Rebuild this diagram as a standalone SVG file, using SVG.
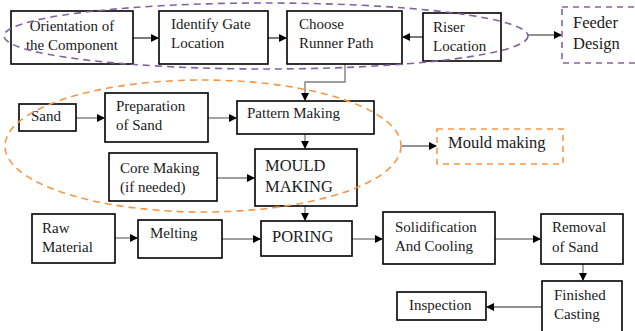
<svg xmlns="http://www.w3.org/2000/svg" width="635" height="331" viewBox="0 0 635 331">
<defs>
<marker id="ah" markerWidth="8" markerHeight="8" refX="7" refY="4" orient="auto" markerUnits="userSpaceOnUse"><path d="M0,0 L8,4 L0,8 Z" fill="#000"/></marker>
<style>
.box{fill:#fff;stroke:#000;stroke-width:1.6}
.t{font-family:"Liberation Serif","Times New Roman",serif;font-size:15px;fill:#1a1a1a}
.big{font-size:16.5px}
.c{fill:none;stroke:#7f7f7f;stroke-width:1.4;marker-end:url(#ah)}
.cd{fill:none;stroke:#222;stroke-width:1.2;marker-end:url(#ah)}
.pd{fill:none;stroke:#8064a2;stroke-width:1.6;stroke-dasharray:7,5}
.od{fill:none;stroke:#f79646;stroke-width:1.6;stroke-dasharray:7,5}
</style>
</defs>
<rect width="635" height="331" fill="#fff"/>
<g id="connectors">
<path class="cd" d="M133,38 H158"/>
<path class="cd" d="M268,38 H286"/>
<path class="cd" d="M423,37 H403"/>
<path class="cd" d="M528,35 H561"/>
<path class="c" d="M345,64 V82 H305 V100"/>
<path class="c" d="M76,118 H104"/>
<path class="c" d="M208,118 H236"/>
<path class="c" d="M305,134 V148"/>
<path class="c" d="M217,178 H254"/>
<path class="cd" d="M402,146 H436"/>
<path class="c" d="M305,206 V220"/>
<path class="c" d="M115,238 H137"/>
<path class="c" d="M222,239 H260"/>
<path class="c" d="M352,239 H382"/>
<path class="c" d="M495,239 H540"/>
<path class="c" d="M583,264 V280"/>
<path class="cd" d="M542,307 H487"/>
</g>
<g id="orientation"><rect class="box" x="11" y="11" width="122" height="53"/><text class="t" x="72" y="31" text-anchor="middle">Orientation of</text><text class="t" x="72" y="50" text-anchor="middle">the Component</text></g>
<g id="gate"><rect class="box" x="159" y="11" width="109" height="53"/><text class="t" x="171" y="29">Identify Gate</text><text class="t" x="171" y="48">Location</text></g>
<g id="runner"><rect class="box" x="287" y="11" width="115" height="53"/><text class="t" x="299" y="29">Choose</text><text class="t" x="299" y="48">Runner Path</text></g>
<g id="riser"><rect class="box" x="423" y="13" width="78" height="48"/><text class="t" x="433" y="32">Riser</text><text class="t" x="433" y="51">Location</text></g>
<ellipse id="feeder-group" class="pd" cx="266" cy="36" rx="262" ry="33"/>
<g id="feeder"><rect x="562" y="7" width="80" height="56" fill="none" stroke="#8064a2" stroke-width="1.6" stroke-dasharray="6,5"/><text class="t big" x="573" y="28">Feeder</text><text class="t big" x="573" y="49">Design</text></g>
<g id="sand"><rect class="box" x="19" y="104" width="57" height="27"/><text class="t" x="31" y="121">Sand</text></g>
<g id="prep"><rect class="box" x="105" y="93" width="103" height="49"/><text class="t" x="116" y="111">Preparation</text><text class="t" x="116" y="130">of Sand</text></g>
<g id="pattern"><rect class="box" x="237" y="101" width="137" height="33"/><text class="t" x="247" y="118">Pattern Making</text></g>
<g id="core"><rect class="box" x="109" y="153" width="108" height="48"/><text class="t" x="120" y="173">Core Making</text><text class="t" x="120" y="192">(if needed)</text></g>
<g id="mould"><rect class="box" x="255" y="149" width="102" height="57"/><text class="t big" x="265" y="171">MOULD</text><text class="t big" x="265" y="192">MAKING</text></g>
<ellipse id="mould-group" class="od" cx="203" cy="146" rx="198" ry="66"/>
<g id="mouldmaking"><rect x="437" y="129" width="126" height="35" fill="none" stroke="#f79646" stroke-width="1.6" stroke-dasharray="6,5"/><text class="t big" x="448" y="148">Mould making</text></g>
<g id="raw"><rect class="box" x="32" y="214" width="83" height="49"/><text class="t" x="42" y="233">Raw</text><text class="t" x="42" y="252">Material</text></g>
<g id="melting"><rect class="box" x="138" y="220" width="84" height="38"/><text class="t" x="150" y="238">Melting</text></g>
<g id="poring"><rect class="box" x="261" y="221" width="91" height="35"/><text class="t big" x="272" y="242">PORING</text></g>
<g id="solid"><rect class="box" x="383" y="212" width="112" height="52"/><text class="t" x="395" y="232">Solidification</text><text class="t" x="395" y="251">And Cooling</text></g>
<g id="removal"><rect class="box" x="541" y="214" width="82" height="50"/><text class="t" x="552" y="232">Removal</text><text class="t" x="552" y="252">of Sand</text></g>
<g id="finished"><rect class="box" x="542" y="281" width="80" height="60"/><text class="t" x="554" y="300">Finished</text><text class="t" x="554" y="319">Casting</text></g>
<g id="inspection"><rect class="box" x="397" y="292" width="89" height="28"/><text class="t" x="409" y="310">Inspection</text></g>
</svg>
